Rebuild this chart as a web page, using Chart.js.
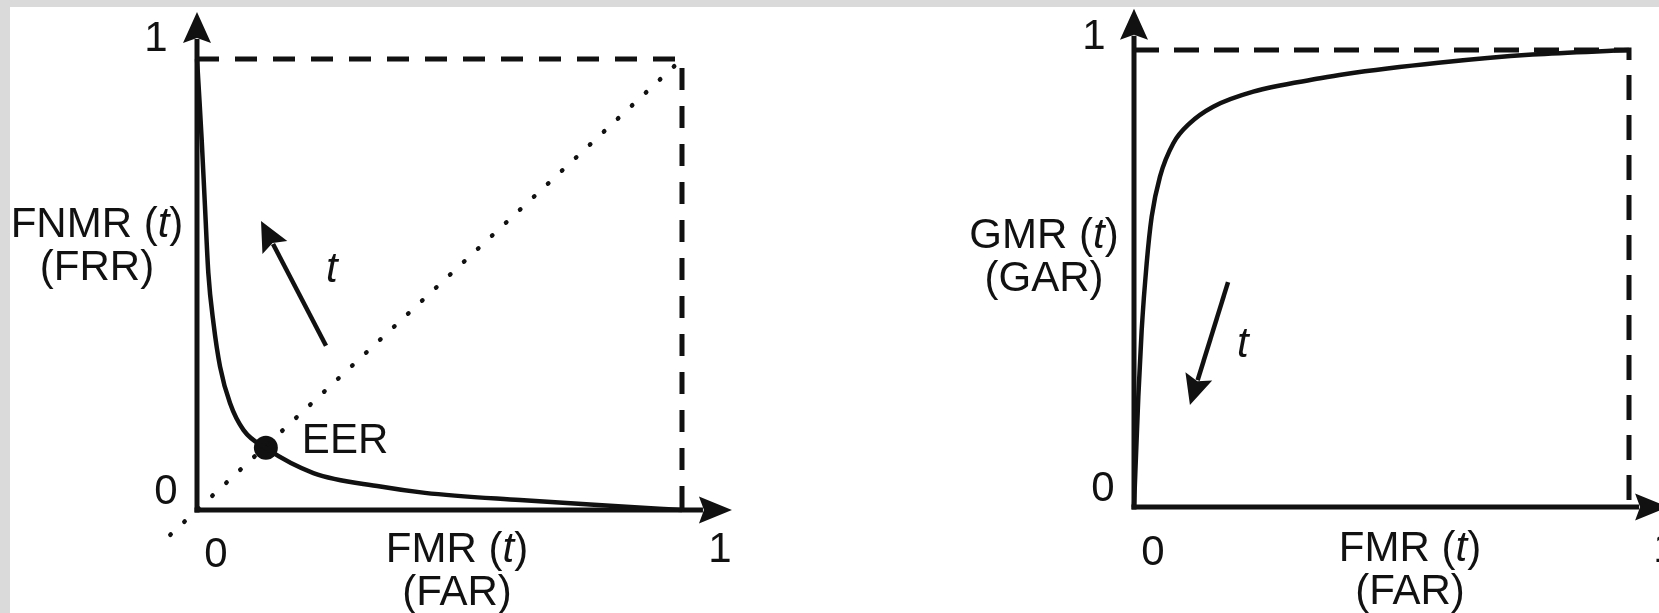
<!DOCTYPE html>
<html>
<head>
<meta charset="utf-8">
<script src="https://cdn.jsdelivr.net/npm/chart.js@4.4.1/dist/chart.umd.min.js"></script>
<style>
    html, body { margin: 0; padding: 0; }
    body { width: 1659px; height: 613px; background: #dadada; position: relative; overflow: hidden; }
    #sheet { position: absolute; left: 10px; top: 7px; right: 0; bottom: 0; background: #fff; }
    canvas { position: absolute; top: 0; }
    #detChart { left: 0; }
    #rocChart { left: 900px; }
</style>
</head>
<body>
<div id="sheet"></div>
<canvas id="detChart" width="760" height="613"></canvas>
<canvas id="rocChart" width="759" height="613"></canvas>
<script>
// left: FNMR vs FMR
const detFmr = [0, 0.005, 0.0097, 0.0165, 0.0234, 0.034, 0.0475, 0.068, 0.096, 0.142, 0.24, 0.378, 0.47, 0.666, 0.86, 1];
const detFnmr = [1, 0.91, 0.82, 0.672, 0.525, 0.414, 0.318, 0.237, 0.177, 0.137, 0.082, 0.052, 0.038, 0.022, 0.009, 0];
const eerFmr = [0.142];
const eerFnmr = [0.138];
const diagFmr = [-0.055, 0.99];
const diagFnmr = [-0.055, 0.99];

// right: GMR vs FMR
const rocFmr = [0, 0.0087, 0.0155, 0.0256, 0.0357, 0.0525, 0.0795, 0.113, 0.16, 0.241, 0.376, 0.425, 0.615, 0.805, 1];
const rocGmr = [0, 0.241, 0.387, 0.533, 0.635, 0.723, 0.796, 0.84, 0.876, 0.909, 0.938, 0.947, 0.972, 0.99, 1];

// dashed bounding lines (x = 1, y = 1)
const boxX = [0, 1, 1];
const boxY = [1, 1, 0];

// tick labels
const tickValues = [0, 1];
const tickLabels = ["0", "1"];

// direction-of-threshold arrows (tail, tip)
const detArrowX = [0.266, 0.132];
const detArrowY = [0.364, 0.641];
const rocArrowX = [0.19, 0.113];
const rocArrowY = [0.492, 0.223];

const INK = "#111";
const FAMILY = "'Liberation Sans', Arial, sans-serif";
const FONT = "42px " + FAMILY;
const FONT_IT = "italic 42px " + FAMILY;

const pts = (xs, ys) => xs.map((x, i) => ({ x: x, y: ys[i] }));

function arrow(ctx, x1, y1, x2, y2, len, half) {
    const a = Math.atan2(y2 - y1, x2 - x1);
    const ux = Math.cos(a), uy = Math.sin(a);
    const bx = x2 - ux * len, by = y2 - uy * len;
    ctx.beginPath();
    ctx.moveTo(x1, y1);
    ctx.lineTo(bx + ux * 4, by + uy * 4);
    ctx.stroke();
    ctx.beginPath();
    ctx.moveTo(x2, y2);
    ctx.lineTo(bx - uy * half, by + ux * half);
    ctx.lineTo(x2 - ux * (len - 5), y2 - uy * (len - 5));
    ctx.lineTo(bx + uy * half, by - ux * half);
    ctx.closePath();
    ctx.fill();
}

// text with *italic* parts, centred on cx
function richText(ctx, str, cx, y) {
    const parts = str.split("*");
    let w = 0;
    parts.forEach((p, i) => { ctx.font = i % 2 ? FONT_IT : FONT; w += ctx.measureText(p).width; });
    let x = cx - w / 2;
    ctx.textAlign = "left";
    parts.forEach((p, i) => {
        ctx.font = i % 2 ? FONT_IT : FONT;
        ctx.fillText(p, x, y);
        x += ctx.measureText(p).width;
    });
}

const sketchPlugin = {
    id: "sketch",
    afterDraw(chart, args, o) {
        const ctx = chart.ctx;
        const xs = chart.scales.x, ys = chart.scales.y;
        const X = (v) => xs.getPixelForValue(v), Y = (v) => ys.getPixelForValue(v);
        const area = chart.chartArea;
        ctx.save();
        ctx.strokeStyle = INK;
        ctx.fillStyle = INK;
        ctx.lineWidth = 5;
        ctx.lineCap = "butt";

        // axes with arrow heads
        arrow(ctx, X(0), Y(0) + 2.5, X(0), Y(o.yTip), 31, 14);
        arrow(ctx, X(0) - 2.5, Y(0), X(o.xTip), Y(0), 33, 13.5);

        // threshold arrow
        ctx.lineWidth = 4.5;
        arrow(ctx, X(o.arrowX[0]), Y(o.arrowY[0]), X(o.arrowX[1]), Y(o.arrowY[1]), 30, 14);

        ctx.textBaseline = "middle";
        ctx.textAlign = "center";
        ctx.font = FONT;
        tickValues.forEach((v, i) => {
            const xo = o.xTickOff[i], yo = o.yTickOff[i];
            ctx.fillText(tickLabels[i], X(v) + xo[0], Y(0) + xo[1]);
            ctx.fillText(tickLabels[i], X(0) + yo[0], Y(v) + yo[1]);
        });
        ctx.font = FONT_IT;
        ctx.fillText("t", X(o.tAt[0]), Y(o.tAt[1]));

        ctx.textBaseline = "alphabetic";
        o.yTitle.forEach((s, i) => richText(ctx, s, area.left + o.yTitleX, o.yTitleBase[i]));
        o.xTitle.forEach((s, i) => richText(ctx, s, area.left + o.xTitleX, o.xTitleBase[i]));

        if (o.eer) {
            const p = chart.getDatasetMeta(o.eer.index).data[0];
            ctx.font = FONT;
            ctx.textAlign = "left";
            ctx.fillText("EER", p.x + 36, p.y + 5);
        }
        ctx.restore();
    }
};

const baseOptions = (padding, sketch) => ({
    responsive: false,
    animation: false,
    devicePixelRatio: 1,
    layout: { padding: padding },
    scales: {
        x: { type: "linear", min: 0, max: 1, display: false },
        y: { type: "linear", min: 0, max: 1, display: false },
    },
    plugins: { legend: { display: false }, tooltip: { enabled: false }, sketch: sketch },
    events: [],
});

const curveStyle = {
    showLine: true,
    borderColor: INK,
    borderWidth: 4.5,
    pointRadius: 0,
    cubicInterpolationMode: "monotone",
    clip: false,
};

const boxStyle = (dash) => ({
    showLine: true,
    borderColor: INK,
    borderWidth: 5,
    borderDash: dash,
    pointRadius: 0,
    clip: false,
});

new Chart(document.getElementById("detChart"), {
    type: "scatter",
    data: {
        datasets: [
            Object.assign({ data: pts(boxX, boxY) }, boxStyle([22, 16])),
            {
                data: pts(diagFmr, diagFnmr),
                showLine: true,
                borderColor: INK,
                borderWidth: 4.5,
                borderDash: [0.5, 18.6],
                borderCapStyle: "round",
                pointRadius: 0,
                clip: false,
            },
            Object.assign({ data: pts(detFmr, detFnmr) }, curveStyle),
            {
                data: pts(eerFmr, eerFnmr),
                pointRadius: 12,
                pointBackgroundColor: INK,
                pointBorderWidth: 0,
                clip: false,
            },
        ],
    },
    options: baseOptions({ left: 197, right: 78, top: 59, bottom: 103 }, {
        xTip: 1.103,
        yTip: 1.104,
        xTickOff: [[19, 45], [38, 40]],
        yTickOff: [[-31, -18], [-41, -20]],
        yTitle: ["FNMR (*t*)", "(FRR)"],
        yTitleX: -100,
        yTitleBase: [237, 280],
        xTitle: ["FMR (*t*)", "(FAR)"],
        xTitleX: 260,
        xTitleBase: [562, 605],
        arrowX: detArrowX,
        arrowY: detArrowY,
        tAt: [0.278, 0.532],
        eer: { index: 3 },
    }),
    plugins: [sketchPlugin],
});

new Chart(document.getElementById("rocChart"), {
    type: "scatter",
    data: {
        datasets: [
            Object.assign({ data: pts(boxX, boxY) }, boxStyle([25, 15])),
            Object.assign({ data: pts(rocFmr, rocGmr) }, curveStyle),
        ],
    },
    options: baseOptions({ left: 234, right: 30, top: 50, bottom: 106 }, {
        xTip: 1.079,
        yTip: 1.09,
        xTickOff: [[19, 46], [36, 43]],
        yTickOff: [[-31, -18], [-40, -13]],
        yTitle: ["GMR (*t*)", "(GAR)"],
        yTitleX: -90,
        yTitleBase: [248, 291],
        xTitle: ["FMR (*t*)", "(FAR)"],
        xTitleX: 276,
        xTitleBase: [561, 604],
        arrowX: rocArrowX,
        arrowY: rocArrowY,
        tAt: [0.22, 0.354],
        eer: null,
    }),
    plugins: [sketchPlugin],
});
</script>
</body>
</html>
